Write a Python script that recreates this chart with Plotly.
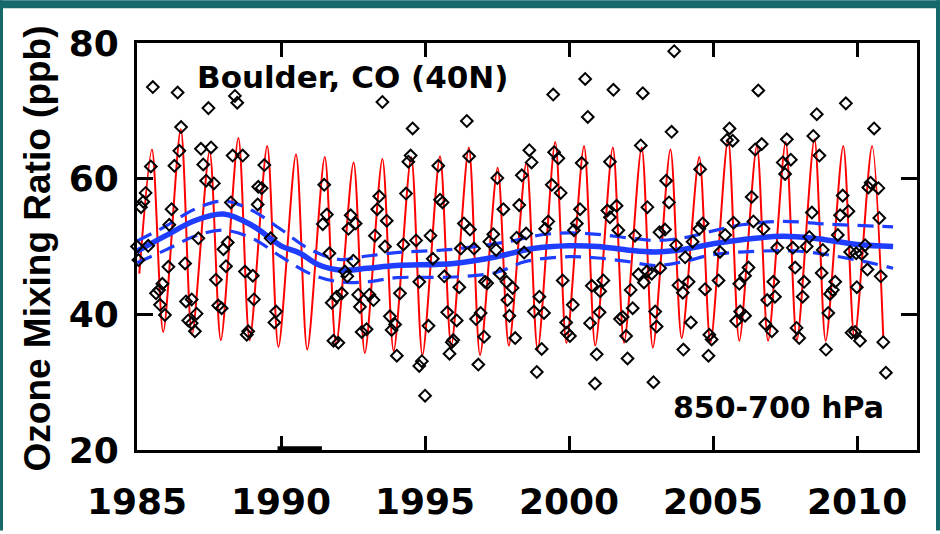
import plotly.graph_objects as go

# ---------------- data ----------------
# Observed monthly means (diamonds): decimal year, ozone ppb
obs_years = [
    1985.00, 1985.05, 1985.14, 1985.22, 1985.30, 1985.39, 1985.48, 1985.55, 1985.66, 1985.77,
    1985.80, 1985.88, 1985.97, 1986.09, 1986.12, 1986.20, 1986.30, 1986.41, 1986.47, 1986.53,
    1986.67, 1986.70, 1986.78, 1986.90, 1986.90, 1987.01, 1987.07, 1987.13, 1987.22, 1987.30,
    1987.40, 1987.48, 1987.57, 1987.67, 1987.74, 1987.82, 1987.94, 1988.00, 1988.09, 1988.15,
    1988.26, 1988.32, 1988.40, 1988.48, 1988.67, 1988.75, 1988.81, 1988.86, 1989.02, 1989.06,
    1989.19, 1989.21, 1989.33, 1989.42, 1989.64, 1989.77, 1989.83,
    1991.45, 1991.50, 1991.59, 1991.68, 1991.76, 1991.82, 1991.93, 1991.99, 1992.11, 1992.22,
    1992.30, 1992.34, 1992.42, 1992.51, 1992.59, 1992.68, 1992.74, 1992.80, 1992.97, 1993.07,
    1993.21, 1993.26, 1993.34, 1993.41, 1993.52, 1993.61, 1993.67, 1993.78, 1993.84, 1993.96,
    1994.02, 1994.13, 1994.25, 1994.34, 1994.42, 1994.50, 1994.57, 1994.69, 1994.80, 1994.80,
    1994.89, 1995.00, 1995.12, 1995.19, 1995.27, 1995.46, 1995.52, 1995.61, 1995.67, 1995.77,
    1995.85, 1995.93, 1995.98, 1996.10, 1996.19, 1996.24, 1996.35, 1996.45, 1996.53, 1996.56,
    1996.70, 1996.77, 1996.85, 1996.93, 1997.05, 1997.08, 1997.16, 1997.23, 1997.37, 1997.47,
    1997.51, 1997.60, 1997.72, 1997.83, 1997.86, 1997.93, 1998.04, 1998.13, 1998.18, 1998.27,
    1998.36, 1998.44, 1998.51, 1998.62, 1998.70, 1998.78, 1998.88, 1998.97, 1999.05, 1999.13,
    1999.17, 1999.28, 1999.40, 1999.45, 1999.48, 1999.63, 1999.71, 1999.78, 1999.90, 1999.92,
    2000.03, 2000.13, 2000.17, 2000.27, 2000.38, 2000.44, 2000.56, 2000.65, 2000.73, 2000.79,
    2000.90, 2000.96, 2001.06, 2001.08, 2001.19, 2001.33, 2001.42, 2001.42, 2001.54, 2001.65,
    2001.71, 2001.77, 2001.86, 2001.98, 2002.03, 2002.14, 2002.21, 2002.29, 2002.41, 2002.49,
    2002.56, 2002.60, 2002.70, 2002.72, 2002.87, 2002.93, 2002.99, 2003.04, 2003.14, 2003.16,
    2003.33, 2003.37, 2003.47, 2003.56, 2003.65, 2003.72, 2003.80, 2003.95, 2003.97, 2004.03,
    2004.15, 2004.23, 2004.29, 2004.52, 2004.55, 2004.64, 2004.72, 2004.84, 2004.87, 2004.95,
    2005.19, 2005.24, 2005.42, 2005.48, 2005.57, 2005.68, 2005.71, 2005.80, 2005.91, 2005.94,
    2006.11, 2006.11, 2006.23, 2006.34, 2006.40, 2006.46, 2006.57, 2006.69, 2006.75, 2006.81,
    2006.88, 2007.04, 2007.09, 2007.15, 2007.23, 2007.42, 2007.50, 2007.56, 2007.70, 2007.77,
    2007.85, 2007.90, 2007.99, 2008.11, 2008.16, 2008.25, 2008.34, 2008.43, 2008.48, 2008.60,
    2008.69, 2008.77, 2008.81, 2008.92, 2009.00, 2009.06, 2009.16, 2009.24, 2009.33, 2009.41,
    2009.50, 2009.61, 2009.70, 2009.76, 2009.81, 2009.93, 2009.97, 2009.99, 2010.10, 2010.16,
    2010.28, 2010.36, 2010.39, 2010.47, 2010.59, 2010.74, 2010.77, 2010.82, 2010.91, 2011.00,
]
obs_ppb = [
    50.0, 48.0, 55.8, 56.6, 57.9, 50.1, 61.8, 73.5, 43.1, 43.6,
    41.4, 44.5, 39.9, 47.0, 53.2, 55.5, 61.9, 72.7, 64.1, 67.6,
    47.5, 41.9, 39.1, 42.2, 38.7, 37.5, 40.1, 51.2, 64.4, 62.1,
    59.7, 70.4, 64.6, 59.3, 45.1, 41.3, 40.9, 49.6, 47.1, 50.6,
    56.5, 63.4, 72.2, 71.2, 63.4, 46.3, 37.0, 37.5, 45.7, 42.2,
    56.2, 58.8, 58.6, 62.0, 51.2, 38.8, 40.4,
    53.3, 59.1, 54.7, 49.0, 41.7, 36.1, 42.6, 35.8, 43.1, 46.3,
    45.6, 52.6, 54.6, 47.9, 53.4, 42.9, 41.1, 37.4, 37.8, 42.9,
    42.1, 51.6, 55.5, 57.4, 71.3, 50.0, 53.8, 39.7, 37.7, 38.5,
    33.9, 43.1, 50.3, 57.8, 62.5, 63.4, 67.4, 50.9, 44.8, 32.4,
    33.1, 28.0, 38.3, 51.6, 48.2, 61.9, 56.9, 56.5, 45.6, 40.3,
    34.2, 35.9, 36.2, 39.1, 44.0, 49.7, 53.4, 68.5, 63.3, 52.5,
    49.7, 39.3, 32.6, 40.2, 36.7, 44.8, 44.6, 50.7, 51.8, 49.5,
    60.1, 46.0, 55.5, 44.8, 42.1, 39.8, 43.9, 36.5, 51.3, 56.1,
    60.5, 49.1, 51.9, 64.2, 62.4, 40.4, 31.5, 42.6, 34.9, 40.2,
    52.6, 53.7, 59.1, 72.4, 63.9, 63.0, 57.9, 45.0, 38.8, 37.3,
    36.8, 41.4, 52.4, 53.4, 55.5, 62.3, 74.7, 69.1, 38.7, 44.2,
    29.8, 34.1, 40.3, 43.4, 45.0, 55.3, 62.5, 54.3, 73.1, 56.0,
    52.4, 39.3, 39.6, 36.8, 33.5, 43.6, 40.9, 51.6, 45.9, 64.9,
    72.6, 44.7, 46.3, 55.8, 46.0, 30.0, 40.4, 38.2, 52.1, 46.8,
    52.5, 59.7, 56.5, 66.9, 78.8, 50.2, 44.3, 43.2, 34.8, 48.4,
    44.8, 38.8, 50.7, 52.6, 61.4, 53.4, 43.7, 33.9, 37.0, 36.3,
    45.0, 49.2, 51.7, 65.7, 67.4, 65.6, 53.5, 39.0, 44.5, 40.4,
    45.7, 39.8, 46.9, 57.3, 53.7, 64.3, 73.0, 65.1, 52.6, 38.6,
    42.1, 37.5, 44.8, 42.6, 49.8, 62.4, 60.7, 65.8, 62.8, 49.8,
    46.9, 38.0, 36.5, 42.6, 44.8, 50.0, 51.4, 55.0, 66.3, 69.5,
    63.4, 46.1, 49.5, 34.8, 40.2, 43.0, 43.6, 44.8, 51.7, 54.6,
    57.5, 71.1, 55.2, 49.2, 37.3, 37.4, 49.0, 44.0, 36.1, 48.9,
    50.2, 46.6, 58.7, 59.4, 67.4, 58.6, 54.2, 45.6, 35.9, 31.4,
]

# Seasonal fit (red): yearly summer maxima and winter minima
fit_years = list(range(1985, 2011))
fit_peak_ppb = [64.3, 67.3, 64.0, 66.0, 64.8, 63.6, 63.2, 62.4, 62.9, 63.2,
                63.3, 64.6, 61.6, 62.4, 65.4, 64.8, 64.6, 64.6, 64.3, 63.2,
                65.8, 64.8, 65.4, 65.8, 64.8, 64.8]
fit_trough_ppb = [37.4, 37.0, 36.2, 36.2, 35.2, 34.8, 35.5, 34.3, 34.6, 34.0,
                  35.4, 34.0, 35.4, 34.8, 35.8, 35.4, 35.8, 35.1, 36.5, 35.8,
                  36.1, 36.1, 36.2, 36.1, 36.5, 36.5]
fit_start = (1985.08, 46.0)

# Long-term trend (blue) and its uncertainty envelope
trend_years = [1985.0, 1986.0, 1987.0, 1988.0, 1989.0, 1990.0, 1990.66, 1991.3, 1992.1, 1993.0,
               1994.0, 1996.0, 1997.5, 1998.75, 2000.0, 2001.0, 2002.0, 2003.0, 2004.0, 2005.0,
               2006.0, 2007.4, 2008.5, 2010.0, 2011.25]
trend_ppb = [49.3, 51.6, 53.8, 54.8, 53.1, 50.1, 49.0, 47.3, 46.5, 46.8,
             47.2, 47.5, 48.5, 49.7, 50.1, 50.0, 49.5, 49.2, 49.6, 50.4,
             51.0, 51.5, 51.2, 50.3, 50.0]
upper_years = [1985.0, 1986.0, 1987.0, 1988.0, 1989.0, 1990.0, 1991.0, 1992.0, 1993.0, 1994.0,
               1996.0, 1998.0, 1999.0, 2000.0, 2001.0, 2002.0, 2003.0, 2004.0, 2005.0, 2006.0,
               2007.4, 2009.0, 2011.25]
upper_ppb = [50.8, 53.0, 55.5, 56.7, 55.3, 52.5, 49.6, 48.1, 48.6, 49.1,
             49.6, 50.8, 51.7, 52.0, 51.8, 51.3, 50.9, 51.3, 52.3, 53.2,
             53.7, 53.3, 52.9]
lower_years = [1985.0, 1986.0, 1987.0, 1988.0, 1989.0, 1990.0, 1991.0, 1992.0, 1993.0, 1994.0,
               1996.0, 1997.5, 1998.5, 2000.0, 2001.0, 2002.0, 2003.0, 2004.0, 2005.0, 2006.5,
               2008.0, 2010.0, 2011.25]
lower_ppb = [47.6, 49.5, 51.5, 52.4, 51.2, 48.5, 46.0, 44.8, 44.8, 45.4,
             45.5, 46.2, 47.8, 48.5, 48.3, 47.8, 47.2, 47.8, 48.8, 49.3,
             49.3, 48.0, 46.8]

# data-gap marker drawn on the bottom axis
gap_years = [1989.88, 1991.42]
gap_ppb = [20.25, 20.25]

x_ticks = [1985, 1990, 1995, 2000, 2005, 2010]
y_ticks = [20, 40, 60, 80]

# ---------------- build the red seasonal curve points ----------------
red_x = [fit_start[0]]
red_y = [fit_start[1]]
for yr, pk, tr in zip(fit_years, fit_peak_ppb, fit_trough_ppb):
    red_x += [yr + 0.52, yr + 0.91]
    red_y += [pk, tr]

RED = "#ff0000"
BLUE = "#1f3dff"
TEAL = "#17686a"

fig = go.Figure()
fig.add_trace(go.Scatter(x=red_x, y=red_y, mode="lines",
                         line=dict(color=RED, width=2, shape="spline", smoothing=0.8),
                         hoverinfo="skip"))
fig.add_trace(go.Scatter(x=upper_years, y=upper_ppb, mode="lines",
                         line=dict(color=BLUE, width=3.2, dash="16px,9px", shape="spline"),
                         hoverinfo="skip"))
fig.add_trace(go.Scatter(x=lower_years, y=lower_ppb, mode="lines",
                         line=dict(color=BLUE, width=3.2, dash="16px,9px", shape="spline"),
                         hoverinfo="skip"))
fig.add_trace(go.Scatter(x=trend_years, y=trend_ppb, mode="lines",
                         line=dict(color=BLUE, width=5.5, shape="spline"),
                         hoverinfo="skip"))
fig.add_trace(go.Scatter(x=obs_years, y=obs_ppb, mode="markers", cliponaxis=False,
                         marker=dict(symbol="diamond-open", size=9, color="black",
                                     line=dict(color="black", width=2))))
fig.add_trace(go.Scatter(x=gap_years, y=gap_ppb, mode="lines", cliponaxis=False,
                         line=dict(color="black", width=4), hoverinfo="skip"))

# layout helpers (pixel -> paper)
L, R, T, B = 137, 917, 43, 453
def px(x):
    return (x - L) / (R - L)
def py(y):
    return (B - y) / (B - T)

tick_font = dict(family="DejaVu Sans", size=36, color="black", weight="bold")

fig.update_layout(
    width=940, height=534,
    margin=dict(l=L, r=940 - R, t=T, b=534 - B, pad=0),
    paper_bgcolor="white", plot_bgcolor="white",
    showlegend=False,
    xaxis=dict(range=[1985, 2012.08], tickvals=x_ticks, ticktext=[str(v) for v in x_ticks],
               ticks="inside", ticklen=14, tickwidth=3, tickcolor="black",
               showline=True, linecolor="black", linewidth=3, mirror="ticks",
               showgrid=False, zeroline=False, tickfont=tick_font, ticklabelstandoff=18),
    yaxis=dict(range=[20, 80], tickvals=y_ticks, ticktext=[str(v) for v in y_ticks],
               ticks="inside", ticklen=16, tickwidth=3, tickcolor="black",
               showline=True, linecolor="black", linewidth=3, mirror="ticks",
               showgrid=False, zeroline=False, tickfont=tick_font, ticklabelstandoff=8),
    annotations=[
        dict(text="Boulder, CO (40N)", xref="paper", yref="paper", x=px(352), y=py(77),
             xanchor="center", yanchor="middle", showarrow=False,
             font=dict(family="DejaVu Sans", size=31, color="black", weight="bold")),
        dict(text="850-700 hPa", xref="paper", yref="paper", x=px(778), y=py(410),
             xanchor="center", yanchor="middle", showarrow=False,
             font=dict(family="DejaVu Sans", size=30, color="black", weight="bold")),
        dict(text="Ozone Mixing Ratio (ppb)", xref="paper", yref="paper", x=px(37), y=py(250),
             xanchor="center", yanchor="middle", showarrow=False, textangle=-90,
             font=dict(family="Liberation Sans", size=37, color="black", weight="bold")),
    ],
    shapes=[
        dict(type="rect", xref="paper", yref="paper", x0=px(0), x1=px(940), y0=py(8), y1=py(0),
             fillcolor=TEAL, line=dict(width=0), layer="above"),
        dict(type="rect", xref="paper", yref="paper", x0=px(0), x1=px(3), y0=py(534), y1=py(0),
             fillcolor=TEAL, line=dict(width=0), layer="above"),
        dict(type="rect", xref="paper", yref="paper", x0=px(936), x1=px(940), y0=py(534), y1=py(0),
             fillcolor=TEAL, line=dict(width=0), layer="above"),
    ],
)

fig.write_html(
    "out.html",
    config={"displayModeBar": False},
    post_script="document.body.style.margin='0';document.body.style.overflow='hidden';",
)
